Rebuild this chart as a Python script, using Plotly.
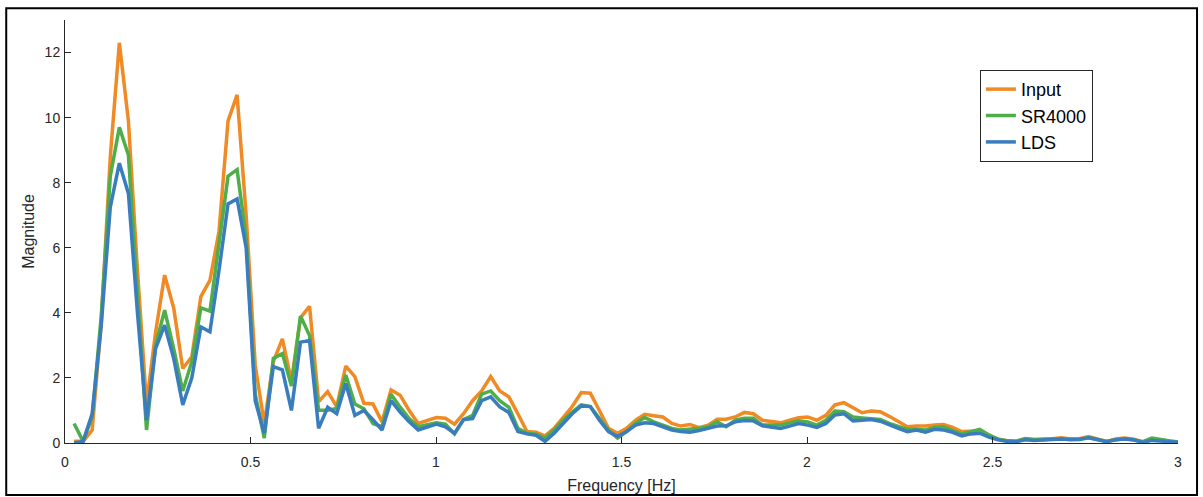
import plotly.graph_objects as go

df = 100.0 / 4096.0  # frequency resolution [Hz]
bins = list(range(1, 124))
freq = [k * df for k in bins]

input_mag = [0.05, 0.05, 0.4, 3.7, 8.8, 12.3, 9.9, 5.3, 1.2, 3.4,
             5.16, 4.15, 2.29, 2.65, 4.5, 5.0, 6.5, 9.9, 10.7, 7.0,
             2.4, 0.6, 2.5, 3.2, 1.9, 3.85, 4.2, 1.27, 1.58, 1.12,
             2.36, 2.04, 1.22, 1.2, 0.65, 1.63, 1.47, 1.0, 0.6, 0.7,
             0.78, 0.76, 0.58, 0.9, 1.3, 1.6, 2.04, 1.6, 1.42, 0.9,
             0.35, 0.33, 0.22, 0.45, 0.8, 1.12, 1.55, 1.53, 1.0, 0.45,
             0.3, 0.45, 0.7, 0.88, 0.84, 0.8, 0.6, 0.52, 0.57, 0.47,
             0.55, 0.73, 0.73, 0.8, 0.94, 0.9, 0.7, 0.65, 0.62, 0.7,
             0.78, 0.8, 0.7, 0.85, 1.17, 1.24, 1.1, 0.93, 0.98, 0.96,
             0.82, 0.65, 0.5, 0.52, 0.52, 0.55, 0.57, 0.48, 0.35, 0.36,
             0.37, 0.22, 0.12, 0.07, 0.05, 0.12, 0.1, 0.1, 0.13, 0.16,
             0.12, 0.13, 0.2, 0.13, 0.05, 0.12, 0.15, 0.12, 0.03, 0.1,
             0.1, 0.05, 0.03]

sr4000_mag = [0.6, 0.05, 0.8, 3.9, 8.2, 9.7, 8.85, 4.5, 0.4, 3.0,
              4.08, 2.9, 1.6, 2.5, 4.15, 4.05, 6.1, 8.2, 8.4, 6.3,
              1.5, 0.15, 2.6, 2.75, 1.75, 3.9, 3.3, 1.01, 1.01, 1.06,
              2.09, 1.2, 1.05, 0.6, 0.5, 1.5, 1.1, 0.75, 0.5, 0.55,
              0.62, 0.58, 0.28, 0.72, 0.85, 1.5, 1.6, 1.3, 1.1, 0.45,
              0.3, 0.27, 0.15, 0.4, 0.7, 0.95, 1.17, 1.12, 0.75, 0.4,
              0.15, 0.35, 0.6, 0.78, 0.65, 0.55, 0.45, 0.4, 0.42, 0.45,
              0.5, 0.65, 0.5, 0.7, 0.76, 0.76, 0.55, 0.55, 0.55, 0.62,
              0.68, 0.65, 0.55, 0.7, 0.98, 0.96, 0.8, 0.77, 0.75, 0.72,
              0.6, 0.5, 0.42, 0.42, 0.4, 0.48, 0.5, 0.38, 0.28, 0.35,
              0.42, 0.25, 0.12, 0.07, 0.05, 0.14, 0.1, 0.12, 0.12, 0.14,
              0.12, 0.12, 0.17, 0.1, 0.05, 0.1, 0.13, 0.1, 0.04, 0.15,
              0.1, 0.06, 0.03]

lds_mag = [0.0, 0.05, 0.9, 3.6, 7.25, 8.6, 7.67, 4.0, 0.7, 2.9,
           3.62, 2.6, 1.17, 2.0, 3.57, 3.42, 5.3, 7.35, 7.5, 6.0,
           1.3, 0.3, 2.35, 2.25, 1.0, 3.1, 3.15, 0.45, 1.1, 0.9,
           1.83, 0.85, 1.0, 0.72, 0.4, 1.3, 0.95, 0.65, 0.4, 0.48,
           0.58, 0.5, 0.3, 0.72, 0.75, 1.3, 1.42, 1.11, 0.94, 0.35,
           0.28, 0.24, 0.05, 0.3, 0.6, 0.9, 1.14, 1.12, 0.7, 0.35,
           0.2, 0.35, 0.55, 0.62, 0.6, 0.5, 0.4, 0.35, 0.33, 0.38,
           0.45, 0.52, 0.53, 0.65, 0.69, 0.68, 0.53, 0.48, 0.45, 0.52,
           0.6, 0.55, 0.48, 0.6, 0.86, 0.9, 0.68, 0.7, 0.72, 0.67,
           0.55, 0.45, 0.35, 0.4, 0.33, 0.42, 0.4, 0.33, 0.22, 0.28,
           0.3, 0.18, 0.1, 0.05, 0.04, 0.1, 0.08, 0.09, 0.1, 0.12,
           0.1, 0.11, 0.16, 0.1, 0.04, 0.1, 0.12, 0.09, 0.02, 0.08,
           0.07, 0.04, 0.02]

series_names = ["Input", "SR4000", "LDS"]
series_colors = ["#F08A24", "#4DAE4A", "#3A7DBE"]
x_ticks = [0, 0.5, 1, 1.5, 2, 2.5, 3]
x_tick_text = ["0", "0.5", "1", "1.5", "2", "2.5", "3"]
y_ticks = [0, 2, 4, 6, 8, 10, 12]

FONT = "Liberation Sans, Arial, sans-serif"
AX = "#262626"

fig = go.Figure()
for name, vals, col in zip(series_names, [input_mag, sr4000_mag, lds_mag], series_colors):
    fig.add_trace(go.Scatter(x=freq, y=vals, mode="lines", name=name,
                             line=dict(color=col, width=3.5)))

fig.update_layout(
    width=1203, height=497,
    margin=dict(l=65, r=25, t=20, b=54),
    paper_bgcolor="white", plot_bgcolor="white",
    font=dict(family=FONT, color=AX, size=14),
    showlegend=True,
    legend=dict(x=0.822, y=0.882, xanchor="left", yanchor="top",
                bgcolor="white", bordercolor="#262626", borderwidth=1,
                font=dict(size=18, color="#000000"), tracegroupgap=0,
                itemwidth=30),
    xaxis=dict(range=[0, 3], tickvals=x_ticks, ticktext=x_tick_text,
               automargin=False,
               showgrid=False, zeroline=False, showline=True, linecolor=AX,
               linewidth=1, ticks="inside", ticklen=6, tickcolor=AX,
               tickfont=dict(size=14, color=AX), ticklabelstandoff=6,
               title=dict(text="Frequency [Hz]", font=dict(size=16, color=AX), standoff=11)),
    yaxis=dict(range=[0, 13], tickvals=y_ticks,
               automargin=False,
               showgrid=False, zeroline=False, showline=True, linecolor=AX,
               linewidth=1, ticks="inside", ticklen=6, tickcolor=AX,
               tickfont=dict(size=14, color=AX), ticklabelstandoff=1,
               title=dict(text="Magnitude", font=dict(size=16, color=AX), standoff=6)),
)

fig.add_shape(type="rect", xref="paper", yref="paper",
              x0=-0.0528, x1=1.0171, y0=-0.1228, y1=1.0277,
              line=dict(color="black", width=2), fillcolor="rgba(0,0,0,0)")

fig.write_html("out.html", config={"displayModeBar": False},
               post_script="document.body.style.margin='0';document.body.style.overflow='hidden';")
